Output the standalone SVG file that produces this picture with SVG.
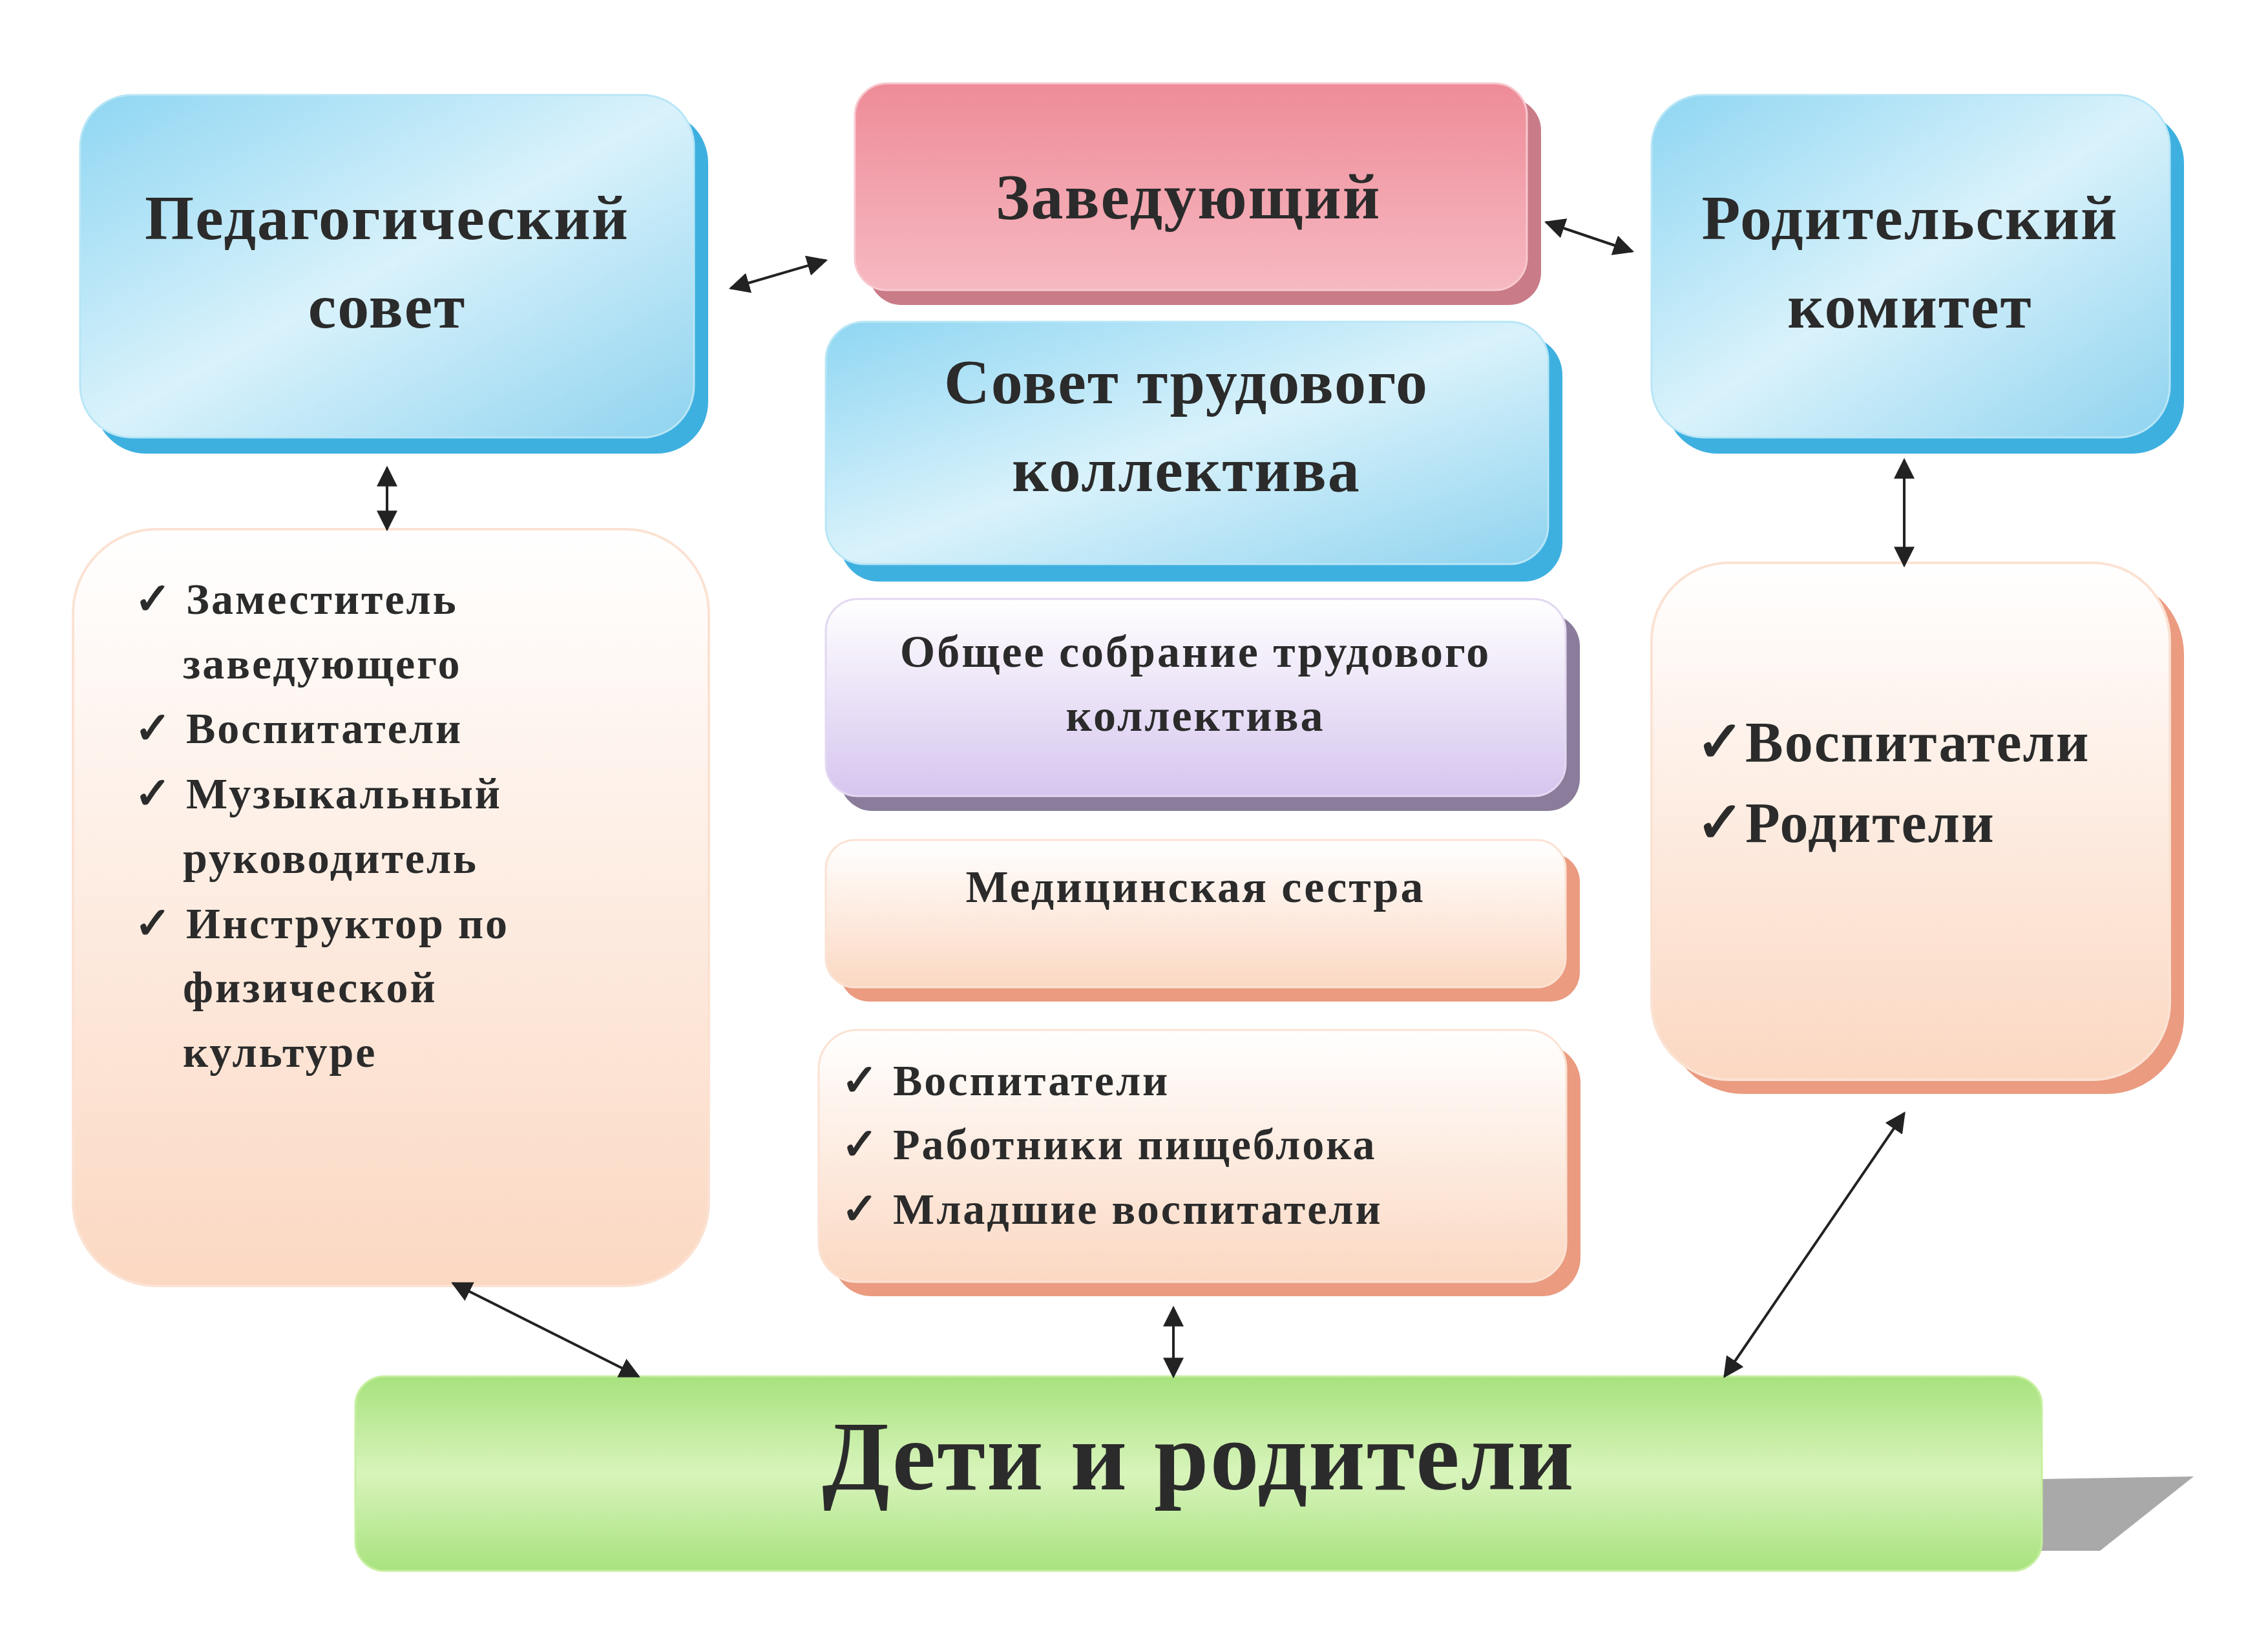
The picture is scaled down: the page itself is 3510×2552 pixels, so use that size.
<svg xmlns="http://www.w3.org/2000/svg" width="3510" height="2552" viewBox="0 0 3510 2552">
<defs>
<linearGradient id="gBlue" x1="0" y1="0" x2="1" y2="1"><stop offset="0" stop-color="#8fd6f2"/><stop offset="0.5" stop-color="#d9f2fb"/><stop offset="1" stop-color="#8fd3ef"/></linearGradient>
<linearGradient id="gPink" x1="0" y1="0" x2="0" y2="1"><stop offset="0" stop-color="#ee8c98"/><stop offset="1" stop-color="#f6b9c2"/></linearGradient>
<linearGradient id="gPeach" x1="0" y1="0" x2="0" y2="1"><stop offset="0" stop-color="#ffffff"/><stop offset="1" stop-color="#fbd8c2"/></linearGradient>
<linearGradient id="gPurple" x1="0" y1="0" x2="0" y2="1"><stop offset="0" stop-color="#ffffff"/><stop offset="1" stop-color="#d6c5ef"/></linearGradient>
<linearGradient id="gGreen" x1="0" y1="0" x2="0" y2="1"><stop offset="0" stop-color="#a8e27e"/><stop offset="0.5" stop-color="#d8f4bb"/><stop offset="1" stop-color="#a8e27e"/></linearGradient>
<marker id="ah" viewBox="0 0 10 10" refX="9" refY="5" markerWidth="8" markerHeight="8" orient="auto-start-reverse"><path d="M0,0 L10,5 L0,10 z" fill="#222"/></marker>
<style>
text{font-family:"Liberation Serif","Times New Roman",serif;font-weight:bold;fill:#2b2b2b}
.t{font-size:98px;letter-spacing:2px;text-anchor:middle}
.l{font-size:68px;letter-spacing:3px}
.c{font-size:70px;letter-spacing:3px;text-anchor:middle}
.r{font-size:88px;letter-spacing:2px}
.cn{stroke:#222;stroke-width:4;fill:none;marker-start:url(#ah);marker-end:url(#ah)}
</style>
</defs>
<rect width="3510" height="2552" fill="#fff"/>
<g id="ped"><rect x="146" y="172" width="950" height="530" rx="80" fill="#3eb0e0"/><rect x="124" y="147" width="950" height="530" rx="80" fill="url(#gBlue)" stroke="#b8e6f6" stroke-width="3"/><text class="t" x="599" y="370">Педагогический</text><text class="t" x="599" y="507">совет</text></g>
<g id="zav"><rect x="1345" y="152" width="1040" height="320" rx="50" fill="#c97b88"/><rect x="1323" y="129" width="1040" height="320" rx="50" fill="url(#gPink)" stroke="#f8c8cf" stroke-width="3"/><text class="t" x="1839" y="338" style="font-size:100px">Заведующий</text></g>
<g id="rod"><rect x="2578" y="172" width="802" height="530" rx="80" fill="#3eb0e0"/><rect x="2556" y="147" width="802" height="530" rx="80" fill="url(#gBlue)" stroke="#b8e6f6" stroke-width="3"/><text class="t" x="2956" y="370">Родительский</text><text class="t" x="2956" y="507">комитет</text></g>
<g id="sovet"><rect x="1300" y="520" width="1118" height="380" rx="60" fill="#3eb0e0"/><rect x="1278" y="498" width="1118" height="375" rx="60" fill="url(#gBlue)" stroke="#b8e6f6" stroke-width="3"/><text class="t" x="1836" y="624">Совет трудового</text><text class="t" x="1836" y="760">коллектива</text></g>
<g id="obshee"><rect x="1300" y="950" width="1145" height="305" rx="50" fill="#8a7c9a"/><rect x="1278" y="927" width="1145" height="305" rx="50" fill="url(#gPurple)" stroke="#e3d8f2" stroke-width="3"/><text class="c" x="1850" y="1032">Общее собрание трудового</text><text class="c" x="1850" y="1131">коллектива</text></g>
<g id="med"><rect x="1300" y="1320" width="1145" height="230" rx="45" fill="#ea9b80"/><rect x="1278" y="1300" width="1145" height="228" rx="45" fill="url(#gPeach)" stroke="#fbe2d3" stroke-width="3"/><text class="c" x="1850" y="1396">Медицинская сестра</text></g>
<g id="staff"><rect x="1289" y="1616" width="1157" height="390" rx="60" fill="#ea9b80"/><rect x="1267" y="1594" width="1157" height="390" rx="60" fill="url(#gPeach)" stroke="#fbe2d3" stroke-width="3"/><text class="l" x="1302" y="1695">✓ Воспитатели</text><text class="l" x="1302" y="1794">✓ Работники пищеблока</text><text class="l" x="1302" y="1894">✓ Младшие воспитатели</text></g>
<g id="leftlist"><rect x="113" y="819" width="984" height="1171" rx="130" fill="url(#gPeach)" stroke="#fbe2d3" stroke-width="4"/>
<text class="l" x="208" y="950">✓ Заместитель</text><text class="l" x="283" y="1050">заведующего</text><text class="l" x="208" y="1150">✓ Воспитатели</text><text class="l" x="208" y="1251">✓ Музыкальный</text><text class="l" x="283" y="1351">руководитель</text><text class="l" x="208" y="1452">✓ Инструктор по</text><text class="l" x="283" y="1551">физической</text><text class="l" x="283" y="1651">культуре</text></g>
<g id="rightlist"><rect x="2578" y="893" width="802" height="800" rx="120" fill="#ea9b80"/><rect x="2556" y="871" width="802" height="800" rx="120" fill="url(#gPeach)" stroke="#fbe2d3" stroke-width="4"/><text class="r" x="2625" y="1178">✓Воспитатели</text><text class="r" x="2625" y="1303">✓Родители</text></g>
<g id="deti"><polygon points="3100,2290 3395,2285 3250,2400 3100,2400" fill="#a9a9a9"/><rect x="550" y="2130" width="2610" height="301" rx="45" fill="url(#gGreen)" stroke="#c6ef9f" stroke-width="3"/><text class="t" x="1855" y="2305" style="font-size:152px">Дети и родители</text></g>
<g id="connectors">
<line class="cn" x1="1131" y1="446" x2="1278" y2="403"/>
<line class="cn" x1="2393" y1="344" x2="2526" y2="389"/>
<line class="cn" x1="599" y1="724" x2="599" y2="819"/>
<line class="cn" x1="2947" y1="712" x2="2947" y2="875"/>
<line class="cn" x1="701" y1="1986" x2="988" y2="2130"/>
<line class="cn" x1="1816" y1="2024" x2="1816" y2="2130"/>
<line class="cn" x1="2947" y1="1723" x2="2669" y2="2130"/>
</g>
</svg>
